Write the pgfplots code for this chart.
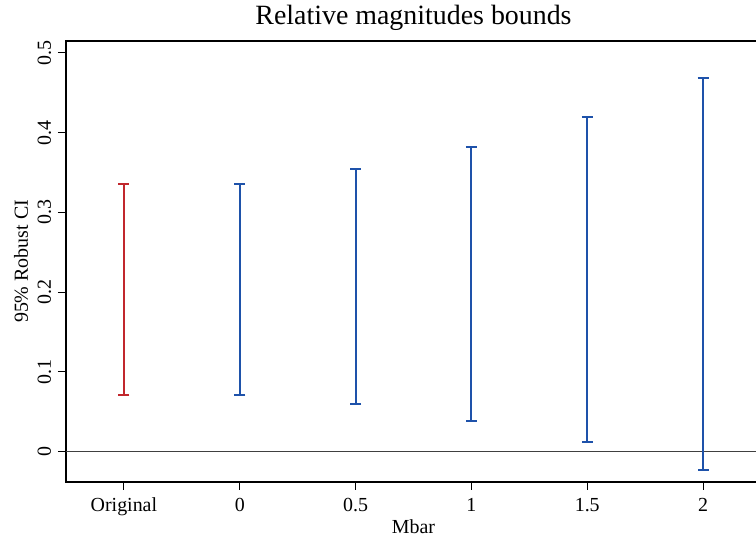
\documentclass[border=0pt]{standalone}
\usepackage{fontspec}
\setmainfont{Liberation Serif}
\usepackage{pgfplots}
\usepackage{pgfplotstable}
\pgfplotsset{compat=1.18}

\definecolor{cired}{RGB}{193,39,45}
\definecolor{ciblue}{RGB}{30,82,170}

% Robust 95% confidence intervals: position, lower bound, upper bound
\pgfplotstableread{
pos lo hi
0 0.0711 0.3358
}\original
\pgfplotstableread{
pos lo hi
1 0.0711 0.3358
2 0.0602 0.3551
3 0.0385 0.3819
4 0.0118 0.4200
5 -0.0233 0.4685
}\mbar

\begin{document}
\begin{tikzpicture}[x=1bp,y=1bp]
\begin{axis}[
  at={(66bp,55bp)}, anchor=south west,
  scale only axis, width=695bp, height=441bp,
  xmin=-0.5, xmax=5.5, ymin=-0.038, ymax=0.515,
  axis line style={line width=1.2bp, black},
  tick style={line width=1bp, black},
  tick align=outside, major tick length=8bp,
  xtick={0,1,2,3,4,5},
  xticklabels={Original,0,0.5,1,1.5,2},
  ytick={0,0.1,0.2,0.3,0.4,0.5},
  yticklabels={0,0.1,0.2,0.3,0.4,0.5},
  xtick pos=lower, ytick pos=left,
  /pgf/number format/assume math mode=true,
  ticklabel style={font=\fontsize{20}{22}\selectfont},
  xticklabel style={anchor=base, yshift=-21bp, inner sep=0pt},
  yticklabel style={rotate=90, anchor=base, yshift=7bp, inner sep=0pt},
  title={Relative magnitudes bounds},
  title style={font=\fontsize{28}{30}\selectfont, at={(0.5,1)}, anchor=base, yshift=11bp, inner sep=0pt},
  xlabel={Mbar},
  xlabel style={font=\fontsize{20}{22}\selectfont, at={(axis description cs:0.5,0)}, anchor=base, yshift=-51bp, inner sep=0pt},
  ylabel={95\% Robust CI},
  ylabel style={font=\fontsize{20}{22}\selectfont, at={(axis description cs:0,0.5)}, anchor=base, yshift=38bp, inner sep=0pt},
  clip=false,
]
  % reference line at zero
  \addplot[draw=black!75, line width=1.6bp] coordinates {(-0.5,0) (5.5,0)};

  \addplot[draw=none, mark=none,
    error bars/.cd, y dir=both, y explicit,
    error bar style={line width=2bp, draw=cired},
    error mark=|, error mark options={line width=2bp, mark size=5.5bp, draw=cired}]
    table[x=pos, y expr={(\thisrow{lo}+\thisrow{hi})/2},
          y error expr={(\thisrow{hi}-\thisrow{lo})/2}] {\original};

  \addplot[draw=none, mark=none,
    error bars/.cd, y dir=both, y explicit,
    error bar style={line width=2bp, draw=ciblue},
    error mark=|, error mark options={line width=2bp, mark size=5.5bp, draw=ciblue}]
    table[x=pos, y expr={(\thisrow{lo}+\thisrow{hi})/2},
          y error expr={(\thisrow{hi}-\thisrow{lo})/2}] {\mbar};
\end{axis}
\pgfresetboundingbox
\path[use as bounding box] (0,0) rectangle (756bp,537bp);
\end{tikzpicture}
\end{document}
